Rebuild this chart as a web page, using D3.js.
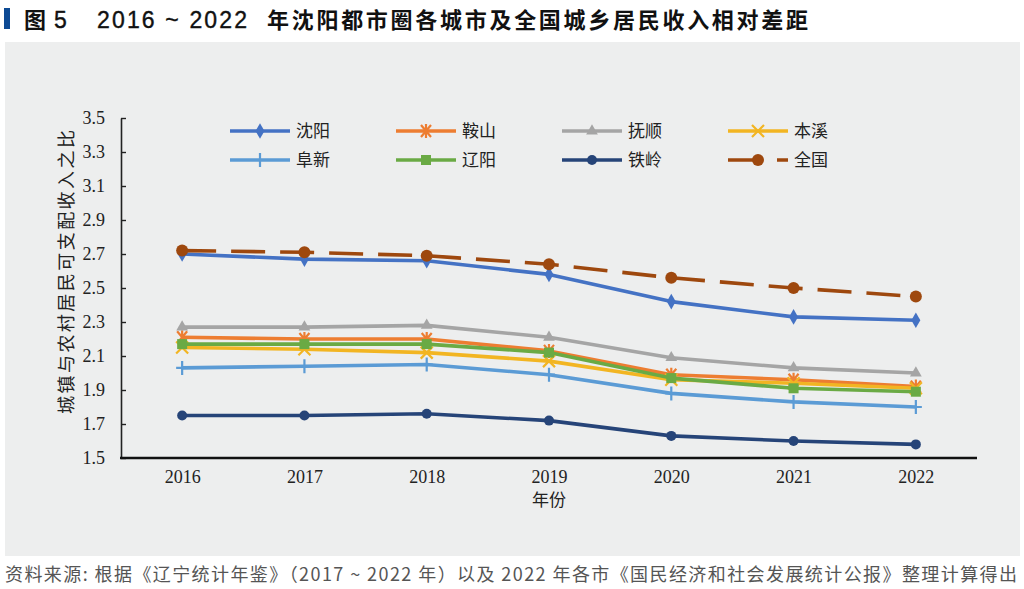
<!DOCTYPE html>
<html><head><meta charset="utf-8">
<script src="https://cdn.jsdelivr.net/npm/d3@7"></script>
<style>
html,body{margin:0;padding:0;background:#fff;}
svg{display:block;}
</style></head>
<body><svg id="chart" width="1024" height="589"></svg>
<script>
// ---- data ----
const years = ["2016", "2017", "2018", "2019", "2020", "2021", "2022"];
const seriesNames = ["沈阳", "鞍山", "抚顺", "本溪", "阜新", "辽阳", "铁岭", "全国"];
const shenyang = [2.70, 2.67, 2.66, 2.58, 2.42, 2.33, 2.31];
const anshan   = [2.21, 2.20, 2.20, 2.13, 1.99, 1.96, 1.92];
const fushun   = [2.27, 2.27, 2.28, 2.21, 2.09, 2.03, 2.00];
const benxi    = [2.15, 2.14, 2.12, 2.07, 1.96, 1.94, 1.91];
const fuxin    = [2.03, 2.04, 2.05, 1.99, 1.88, 1.83, 1.80];
const liaoyang = [2.17, 2.17, 2.17, 2.12, 1.97, 1.91, 1.89];
const tieling  = [1.75, 1.75, 1.76, 1.72, 1.63, 1.60, 1.58];
const national = [2.72, 2.71, 2.69, 2.64, 2.56, 2.50, 2.45];
const yTicks = [1.5, 1.7, 1.9, 2.1, 2.3, 2.5, 2.7, 2.9, 3.1, 3.3, 3.5];
const titleFig = "图";
const titleNum = "5";
const titleYears = "2016 ~ 2022";
const titleText = "年沈阳都市圈各城市及全国城乡居民收入相对差距";
const yTitle = "城镇与农村居民可支配收入之比";
const xTitle = "年份";
const sourceText = "资料来源: 根据《辽宁统计年鉴》（2017 ~ 2022 年）以及 2022 年各市《国民经济和社会发展统计公报》整理计算得出";

const valuesList = [shenyang, anshan, fushun, benxi, fuxin, liaoyang, tieling, national];
const colors = ["#4472c4", "#ed7d31", "#a5a5a5", "#f2b522", "#5b9bd5", "#6aaa44", "#264478", "#9e480e"];
const markers = ["diamond", "asterisk", "triangle", "x", "plus", "square", "circle", "circleBig"];
const dashed = [false, false, false, false, false, false, false, true];
const legendOrder = [0, 1, 2, 3, 4, 5, 6, 7];

const svg = d3.select("#chart");
const CJK = "'Noto Sans CJK SC','Noto Sans',sans-serif";
const SANS = "'Liberation Sans',Arial,sans-serif";
const SERIF = "'Liberation Serif','DejaVu Serif',serif";

// background panel
svg.append("rect").attr("x", 5).attr("y", 42).attr("width", 1015).attr("height", 514).attr("fill", "#edeeee");

// title
svg.append("rect").attr("x", 4).attr("y", 8).attr("width", 6).attr("height", 21).attr("fill", "#0d4a94");
svg.append("text").attr("x", 24).attr("y", 28).attr("font-family", CJK).attr("font-weight", "bold")
  .attr("font-size", 22).attr("fill", "#111").text(titleFig);
svg.append("text").attr("x", 54).attr("y", 28).attr("font-family", SANS)
  .attr("font-size", 23).attr("fill", "#111").attr("stroke", "#111").attr("stroke-width", 0.4).text(titleNum);
svg.append("text").attr("x", 97).attr("y", 28).attr("font-family", SANS)
  .attr("font-size", 23).attr("fill", "#111").attr("stroke", "#111").attr("stroke-width", 0.4)
  .attr("textLength", 150).attr("lengthAdjust", "spacing").text(titleYears);
svg.append("text").attr("x", 267).attr("y", 28).attr("font-family", CJK).attr("font-weight", "bold")
  .attr("font-size", 22).attr("fill", "#111").attr("textLength", 541).attr("lengthAdjust", "spacing").text(titleText);

// footer
svg.append("text").attr("x", 5).attr("y", 581).attr("font-family", CJK).attr("font-size", 18)
  .attr("fill", "#555").attr("textLength", 1012).attr("lengthAdjust", "spacing").text(sourceText);

// scales
const margin = {left: 121, right: 977, top: 118, bottom: 458};
const x = d3.scalePoint().domain(years).range([margin.left, margin.right]).padding(0.5);
const y = d3.scaleLinear().domain([1.5, 3.5]).range([margin.bottom, margin.top]);

// y axis
const yAxis = svg.append("g").attr("transform", `translate(${margin.left},0)`)
  .call(d3.axisLeft(y).tickValues(yTicks).tickFormat(d3.format(".1f")).tickSize(-5).tickSizeOuter(0).tickPadding(16));
yAxis.select(".domain").attr("stroke", "#222").attr("stroke-width", 1.6);
yAxis.selectAll(".tick line").attr("stroke", "#222").attr("stroke-width", 1.4);
yAxis.selectAll("text").attr("font-family", SERIF).attr("font-size", 18).attr("fill", "#222");

// x axis
const xAxis = svg.append("g").attr("transform", `translate(0,${margin.bottom})`)
  .call(d3.axisBottom(x).tickSize(0).tickPadding(12));
xAxis.select(".domain").remove();
svg.append("line").attr("x1", margin.left - 1).attr("x2", margin.right).attr("y1", margin.bottom).attr("y2", margin.bottom)
  .attr("stroke", "#111").attr("stroke-width", 2.6);
xAxis.selectAll("text").attr("font-family", SERIF).attr("font-size", 18).attr("fill", "#222");

// axis titles
svg.append("text").attr("transform", `translate(73,272) rotate(-90)`)
  .attr("text-anchor", "middle").attr("font-family", CJK).attr("font-size", 18).attr("fill", "#222")
  .attr("textLength", 284).attr("lengthAdjust", "spacing").text(yTitle);
svg.append("text").attr("x", x("2019")).attr("y", 506).attr("text-anchor", "middle")
  .attr("font-family", CJK).attr("font-size", 17).attr("fill", "#222").text(xTitle);

// marker drawer
function drawMarker(g, type, cx, cy, color) {
  const s = g.append("g").attr("transform", `translate(${cx},${cy})`);
  if (type === "diamond") {
    s.append("path").attr("d", d3.symbol(d3.symbolDiamond, 70)()).attr("fill", color);
  } else if (type === "triangle") {
    s.append("path").attr("d", d3.symbol(d3.symbolTriangle, 60)()).attr("fill", color);
  } else if (type === "square") {
    s.append("rect").attr("x", -5).attr("y", -5).attr("width", 10).attr("height", 10).attr("fill", color);
  } else if (type === "circle") {
    s.append("circle").attr("r", 5).attr("fill", color);
  } else if (type === "circleBig") {
    s.append("circle").attr("r", 6).attr("fill", color);
  } else if (type === "x") {
    s.append("path").attr("d", "M-6,-6L6,6M-6,6L6,-6").attr("stroke", color).attr("stroke-width", 2.2).attr("fill", "none");
  } else if (type === "plus") {
    s.append("path").attr("d", "M0,-7L0,7M-6,0L6,0").attr("stroke", color).attr("stroke-width", 2.2).attr("fill", "none");
  } else if (type === "asterisk") {
    s.append("path").attr("d", "M-5,-6L5,6M-5,6L5,-6M0,-7L0,7").attr("stroke", color).attr("stroke-width", 2.2).attr("fill", "none");
  }
}

// lines
const line = d3.line().x((d, i) => x(years[i])).y(d => y(d));
const plot = svg.append("g");
valuesList.forEach((vals, k) => {
  const g = plot.append("g");
  g.append("path").datum(vals).attr("d", line).attr("fill", "none")
    .attr("stroke", colors[k]).attr("stroke-width", 3.6)
    .attr("stroke-linejoin", "round")
    .attr("stroke-dasharray", dashed[k] ? "34,15" : null);
  vals.forEach((v, i) => drawMarker(g, markers[k], x(years[i]), y(v), colors[k]));
});

// legend
const legend = svg.append("g");
legendOrder.forEach((k, idx) => {
  const col = idx % 4, row = Math.floor(idx / 4);
  const lx = 230 + col * 166, ly = 131 + row * 29;
  legend.append("line").attr("x1", lx).attr("x2", lx + 60).attr("y1", ly).attr("y2", ly)
    .attr("stroke", colors[k]).attr("stroke-width", 3.6)
    .attr("stroke-dasharray", dashed[k] ? "34,15" : null);
  drawMarker(legend, markers[k], lx + 30, ly, colors[k]);
  legend.append("text").attr("x", lx + 66).attr("y", ly).attr("dy", "0.36em")
    .attr("font-family", CJK).attr("font-size", 17).attr("fill", "#222").text(seriesNames[k]);
});
</script></body></html>
